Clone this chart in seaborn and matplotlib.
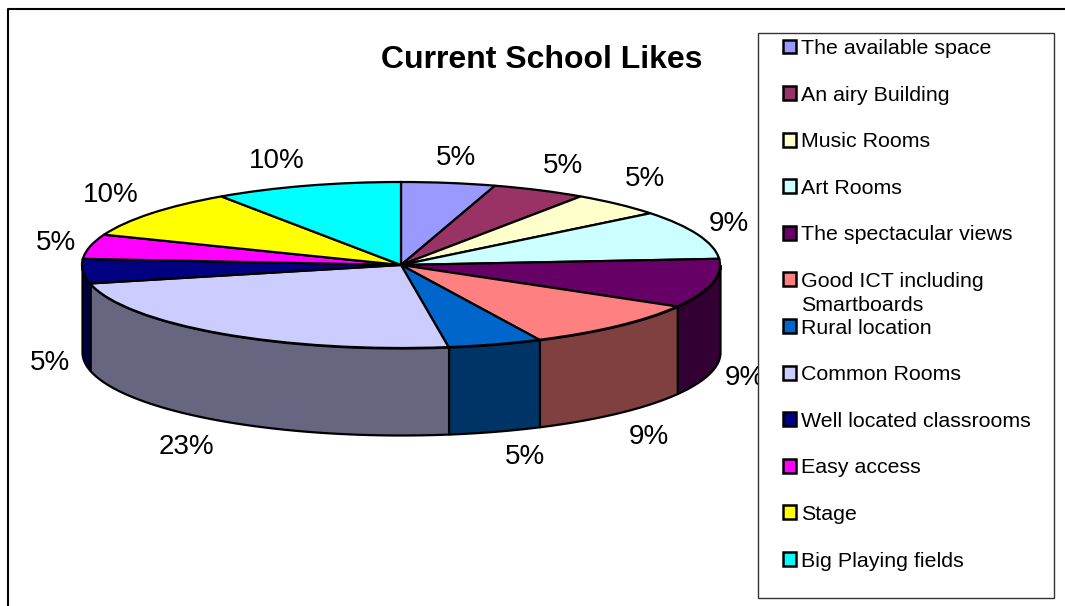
import numpy as np
import matplotlib
matplotlib.use("Agg")
import matplotlib.pyplot as plt
from matplotlib.lines import Line2D
from matplotlib.patches import Rectangle
import seaborn as sns

categories = ["The available space", "An airy Building", "Music Rooms", "Art Rooms",
              "The spectacular views", "Good ICT including", "Rural location",
              "Common Rooms", "Well located classrooms", "Easy access", "Stage",
              "Big Playing fields"]
counts = [1, 1, 1, 2, 2, 2, 1, 5, 1, 1, 2, 2]
pct_labels = ["5%", "5%", "5%", "9%", "9%", "9%", "5%", "23%", "5%", "5%", "10%", "10%"]
colors = ["#9999FF", "#993366", "#FFFFCC", "#CCFFFF", "#660066", "#FF8080", "#0066CC",
          "#CCCCFF", "#000080", "#FF00FF", "#FFFF00", "#00FFFF"]

W, H = 1065, 606
CX, CY, RX, RY, DEPTH = 401, 265, 319, 83, 87

sns.set_theme(style="white")
plt.rcParams["font.family"] = ["Liberation Sans", "DejaVu Sans"]


def px(x, y):
    # pixel position -> pie data units
    return (x - CX) / RX, (CY - y) / RY


fig = plt.figure(figsize=(W / 100, H / 100), dpi=100)
ax = fig.add_axes([0, 0, 1, 1])

wedges, _ = ax.pie(counts, colors=colors, startangle=90, counterclock=False, radius=1,
                   wedgeprops={"edgecolor": "black", "linewidth": 1.6, "zorder": 3})
ax.set_aspect("auto")
ax.set_xlim(px(0, 0)[0], px(W, 0)[0])
ax.set_ylim(px(0, H)[1], px(0, 0)[1])
ax.axis("off")

# side wall of the front half, same slices in half brightness
edges = np.cumsum([0] + counts) / sum(counts) * 360
d = DEPTH / RY
for start, end, c in zip(edges[:-1], edges[1:], colors):
    a, b = max(start, 90), min(end, 270)
    if b <= a:
        continue
    t = np.radians(np.linspace(a, b, 80))
    x, y = np.sin(t), np.cos(t)
    dark = tuple(v * 0.5 for v in matplotlib.colors.to_rgb(c))
    ax.fill_between(x, y, y - d, facecolor=dark, edgecolor="black", linewidth=1.6, zorder=2)

# percent labels
label_xy = [(456, 158), (563, 166), (645, 179), (729, 224), (745, 378), (649, 437),
            (525, 457), (186, 447), (50, 363), (56, 243), (111, 195), (277, 161)]
for s, (lx, ly) in zip(pct_labels, label_xy):
    ax.text(*px(lx, ly), s, fontsize=20, color="black", ha="center", va="center", zorder=4)

ax.text(*px(542, 60), "Current School Likes", fontsize=23, fontweight="bold",
        color="black", ha="center", va="center", zorder=4)

# legend box
ax.add_patch(Rectangle((758 / W, 1 - 598 / H), 296 / W, 565 / H, transform=fig.transFigure,
                       facecolor="white", edgecolor="#333333", linewidth=1.0, zorder=5))
handles = [Rectangle((0, 0), 1, 1, facecolor=c, edgecolor="black", linewidth=1.8) for c in colors]
leg = ax.legend(handles, categories, loc="upper left", bbox_to_anchor=(783 / W, 1 - 39 / H),
                bbox_transform=fig.transFigure, frameon=False, fontsize=15.4, labelcolor="black",
                handlelength=0.62, handleheight=0.62, handletextpad=0.24,
                labelspacing=1.29, borderpad=0, borderaxespad=0)
leg.set_zorder(6)
ax.text(*px(801, 305), "Smartboards", fontsize=15.4, color="black", ha="left", va="center", zorder=7)

# outer chart frame, open at the right and bottom
fig.add_artist(Line2D([8 / W, 8 / W, 1], [0, 1 - 9 / H, 1 - 9 / H],
                      color="black", linewidth=1.5))

fig.savefig("out.png", dpi=100)
